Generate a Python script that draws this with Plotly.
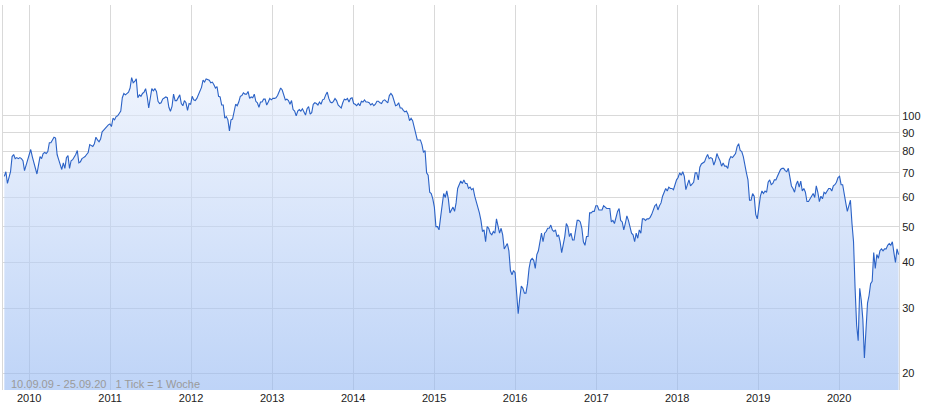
import pandas as pd
import plotly.graph_objects as go

# Weekly closing values, one list per calendar year
v2009 = [68.5, 70.5, 65.5, 68.0, 70.5, 77.5, 78.5, 76.5, 77.0, 76.5, 77.0, 76.5, 75.5, 71.0, 73.5, 76.0]
v2010 = [78, 81, 77.5, 74.5, 71.5, 69.5, 73.5, 77.5, 76.5, 79, 79.5, 79, 80, 84.5, 84.5, 86, 87.5, 87, 78.5, 76,
         73.5, 71.5, 74.5, 72, 77, 78, 72, 75.5, 76, 77, 78.5, 80.5, 74.5, 75, 76.5, 77, 77.5, 78.5, 79.5, 83.5,
         83, 82.5, 84, 87.5, 86, 85, 86.5, 90.5, 91.5, 92.5, 94, 94.5, 95]
v2011 = [93.5, 98.5, 97.5, 99.5, 100, 101.5, 103, 112, 115, 114, 115, 116, 119, 127, 123, 124, 126, 112, 114, 113,
         115, 116, 118.5, 113, 105, 111, 118.5, 117, 118.5, 116.5, 109.5, 108, 108.5, 111, 112, 112.5, 112, 105.5, 102.8, 106,
         114.5, 110, 110, 112, 114, 108, 106.5, 110, 108.5, 103.5, 108, 107.5]
v2012 = [113, 110.5, 110, 111.5, 114.5, 117.5, 119.5, 125, 123.5, 126, 125.5, 125, 123, 123.5, 121.5, 119, 120, 113, 112.5, 107,
         107, 98.5, 99.5, 97.5, 91, 97.5, 98, 102.5, 107.5, 106.5, 109, 113, 113.5, 115.5, 114.5, 114.5, 116.5, 111.5, 112.5, 112,
         114.5, 109.5, 108.5, 105.5, 109, 109, 111, 111, 107, 109, 111.5, 110.5]
v2013 = [111.5, 111.5, 112, 113.5, 116.5, 119, 117.5, 114, 110.5, 111, 110, 107.5, 110, 104, 103, 100, 103, 104, 103, 104.5,
         102.5, 100.5, 104.5, 106, 101, 102, 107.5, 108.5, 108, 107, 109, 107.5, 110.5, 111, 114, 116, 111.5, 109, 108.5, 109.5,
         111.5, 110, 107, 106, 105, 108.5, 111, 110.5, 111.5, 109, 111.5, 112]
v2014 = [108, 107.5, 106.5, 108, 106.5, 109.5, 109, 110.5, 109, 109, 108.5, 107, 108, 106.5, 107.5, 109.5, 109.5, 108.5, 108, 110,
         110.5, 109.5, 108.5, 113.5, 115, 113.5, 110.5, 106.5, 107, 108.5, 105, 105, 103.5, 102.5, 103, 101, 97, 98.5, 97, 92.5,
         90, 86, 86, 86, 83.5, 79.5, 80.5, 70, 69, 62, 61.5, 59.5]
v2015 = [56.5, 50, 50, 49, 53, 58, 61.5, 60, 62.5, 59.5, 54.5, 55.5, 56.5, 55, 58, 63.5, 65.5, 66.5, 65.5, 67,
         65.5, 65.5, 63.5, 64, 63, 63.5, 60.5, 58.5, 57, 54.5, 52, 48.5, 49, 45.5, 50, 49.5, 48, 47.5, 48.5, 48,
         52.5, 50.5, 48, 49.5, 47.5, 43.5, 44.5, 45, 43, 38, 37, 38]
v2016 = [37.5, 33.5, 29, 32, 34.5, 34, 33, 33, 35, 38.5, 40.5, 41, 40.5, 38.5, 42, 43, 45, 48, 45.5, 48,
         48.5, 49.5, 49.5, 50.5, 49, 48.5, 49, 47, 47.5, 45.5, 42.5, 44.5, 47, 51, 50, 47, 48, 46, 46, 49,
         52, 52, 51.5, 49.5, 45.5, 44.5, 47, 47, 54.5, 54.5, 55, 55, 57]
v2017 = [57, 55.5, 55.5, 55.5, 57, 56.5, 56, 56, 56, 51.5, 52, 51, 53, 55, 56, 52, 51.5, 49, 51, 53.5,
         52, 50, 48, 47.5, 45.5, 48, 46.5, 49, 48, 52.5, 52.5, 52, 52.5, 52.5, 53, 54, 55.5, 57, 57.5, 55.5,
         57, 58, 60.5, 62, 63.5, 62.5, 64, 63.5, 63.5, 63, 65, 67]
v2018 = [68, 70, 69, 70.5, 68.5, 63, 65, 67, 64.5, 65.5, 66, 70, 70, 67, 72.5, 74, 74.5, 75, 77, 78.5,
         76.5, 77, 76.5, 73.5, 75.5, 79, 77, 75.5, 73, 74.5, 73, 73, 72, 76, 77.5, 77, 78, 79, 82.5, 84,
         80.5, 80, 77.5, 73, 70, 67, 59, 59, 61.5, 60.5, 54, 52.5]
v2019 = [57, 60.5, 62.5, 61.5, 62.5, 62, 66, 67, 65, 65.5, 67, 67, 68.5, 70, 71.5, 72, 72, 71, 70.5, 72,
         68.5, 64.5, 63.5, 62, 65, 66.5, 64, 66.5, 62.5, 63.5, 62, 58.5, 58.5, 59.5, 60.5, 61.5, 60, 64.5, 62, 58.5,
         60.5, 59.5, 62, 61.5, 62.5, 63.5, 63.5, 62.5, 64.5, 65, 66, 68]
v2020 = [68.5, 65, 65, 60.5, 58, 55, 57.5, 59, 51, 45.5, 34, 27, 24.5, 34, 31.5, 28, 22, 26.5, 31, 32.5,
         35, 35.5, 42.5, 38.5, 42, 41, 43, 43.5, 43, 43.5, 43.5, 44.5, 45, 44.5, 45.5, 42.5, 40, 43.5, 42]

# first weekly tick of each year
series = [
    ("2009-09-11", v2009), ("2010-01-01", v2010), ("2011-01-07", v2011), ("2012-01-06", v2012),
    ("2013-01-04", v2013), ("2014-01-03", v2014), ("2015-01-02", v2015), ("2016-01-01", v2016),
    ("2017-01-06", v2017), ("2018-01-05", v2018), ("2019-01-04", v2019), ("2020-01-03", v2020),
]

dates, values = [], []
for start, vals in series:
    dates.extend(pd.date_range(start, periods=len(vals), freq="7D"))
    values.extend(vals)

y_ticks = [20, 30, 40, 50, 60, 70, 80, 90, 100]
x_ticks = [f"{y}-01-01" for y in range(2010, 2021)]
x_labels = [str(y) for y in range(2010, 2021)]

grid = "#d9d9d9"
fig = go.Figure()
fig.add_trace(go.Scatter(
    x=dates, y=values, mode="lines",
    line=dict(color="#2b62c6", width=1.1),
    fill="tozeroy",
    fillgradient=dict(
        type="vertical",
        start=18, stop=130,
        colorscale=[[0, "rgba(147,183,242,0.6)"], [1, "rgba(229,237,252,0.6)"]],
    ),
    hoverinfo="skip",
))

fig.update_layout(
    width=928, height=406,
    margin=dict(l=3, r=29, t=5, b=16),
    paper_bgcolor="white", plot_bgcolor="white",
    showlegend=False,
    font=dict(family="Liberation Sans, Arial, sans-serif", size=11, color="#222222"),
    xaxis=dict(
        type="date", range=["2009-09-05", "2020-09-27"],
        tickvals=x_ticks, ticktext=x_labels,
        showgrid=True, gridcolor=grid, gridwidth=1,
        zeroline=False, showline=False, ticks="", automargin=False,
        tickfont=dict(size=11, color="#222222"),
    ),
    yaxis=dict(
        type="log", side="right",
        range=[1.2553, 2.3010],
        tickvals=y_ticks, ticktext=[str(t) for t in y_ticks],
        showgrid=True, gridcolor=grid, gridwidth=1,
        zeroline=False, showline=True, mirror=True, linecolor=grid, linewidth=1,
        ticks="", automargin=False,
        tickfont=dict(size=11, color="#222222"),
    ),
    annotations=[dict(
        xref="paper", yref="paper", x=0.0067, y=0.0156, xanchor="left", yanchor="middle",
        text="10.09.09 - 25.09.20\u00a0\u00a0 1 Tick = 1 Woche", showarrow=False,
        font=dict(size=11, color="#9a9a9a"),
    )],
)

fig.write_html(
    "out.html",
    config={"displayModeBar": False, "staticPlot": True},
    post_script="document.body.style.margin='0';document.body.style.overflow='hidden';",
)
